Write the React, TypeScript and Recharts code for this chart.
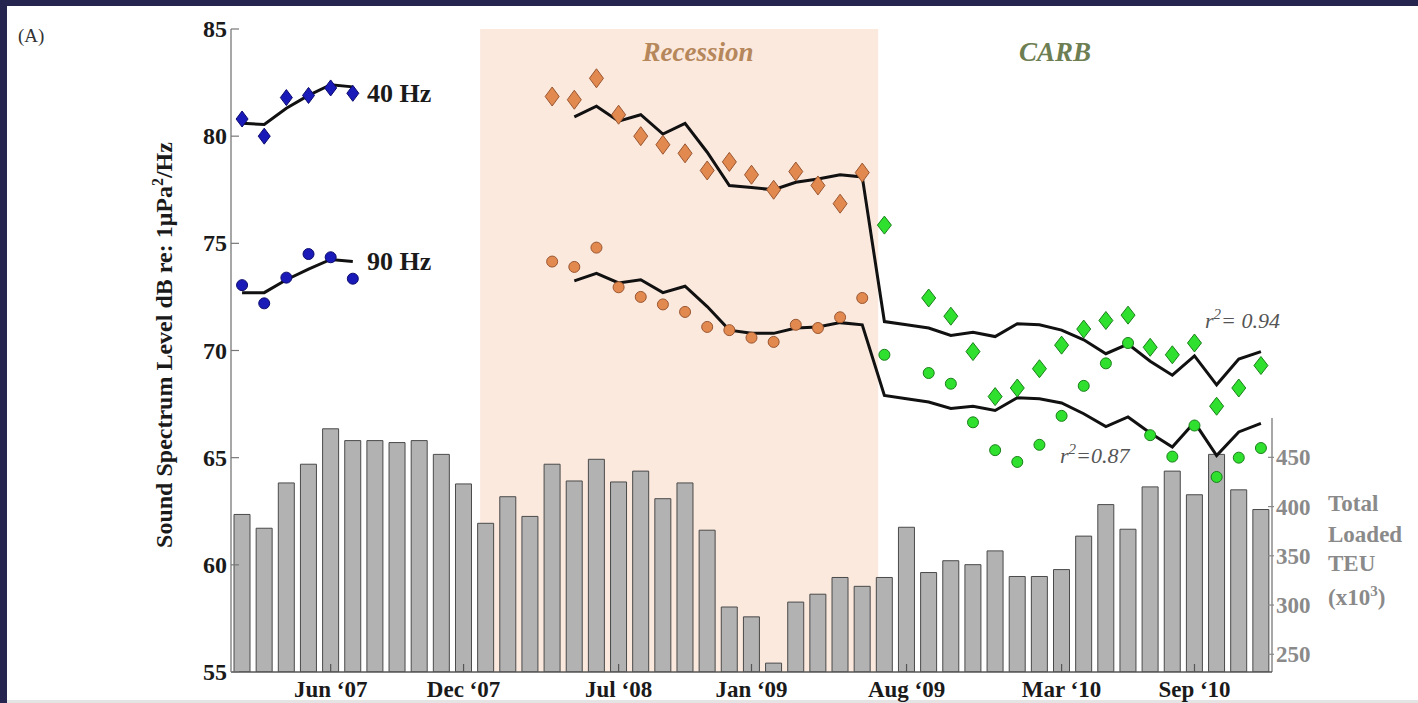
import { Bar, ComposedChart, Line, ReferenceArea, ReferenceLine, Scatter, XAxis, YAxis } from 'recharts'

const months = [
  'Feb ‘07', 'Mar ‘07', 'Apr ‘07', 'May ‘07', 'Jun ‘07', 'Jul ‘07', 'Aug ‘07', 'Sep ‘07', 'Oct ‘07', 'Nov ‘07', 'Dec ‘07',
  'Jan ‘08', 'Feb ‘08', 'Mar ‘08', 'Apr ‘08', 'May ‘08', 'Jun ‘08', 'Jul ‘08', 'Aug ‘08', 'Sep ‘08', 'Oct ‘08', 'Nov ‘08', 'Dec ‘08',
  'Jan ‘09', 'Feb ‘09', 'Mar ‘09', 'Apr ‘09', 'May ‘09', 'Jun ‘09', 'Jul ‘09', 'Aug ‘09', 'Sep ‘09', 'Oct ‘09', 'Nov ‘09', 'Dec ‘09',
  'Jan ‘10', 'Feb ‘10', 'Mar ‘10', 'Apr ‘10', 'May ‘10', 'Jun ‘10', 'Jul ‘10', 'Aug ‘10', 'Sep ‘10', 'Oct ‘10', 'Nov ‘10', 'Dec ‘10',
]
const tickMonths = ['Jun ‘07', 'Dec ‘07', 'Jul ‘08', 'Jan ‘09', 'Aug ‘09', 'Mar ‘10', 'Sep ‘10']
const dbTicks = [55, 60, 65, 70, 75, 80, 85]
const teuTicks = [250, 300, 350, 400, 450]

// total loaded TEU (x10^3), one per month
const teu = [
  392, 378, 424, 443, 479, 467, 467, 465, 467, 453, 423,
  383, 410, 390, 443, 426, 448, 425, 436, 408, 424, 376, 298,
  288, 241, 303, 311, 328, 319, 328, 379, 333, 345, 341, 355,
  329, 329, 336, 370, 402, 377, 420, 436, 412, 453, 417, 397,
]

// Feb–Jul '07
const pre40 = [80.8, 80.0, 81.8, 81.9, 82.25, 82.0]
const pre90 = [73.05, 72.2, 73.4, 74.5, 74.35, 73.35]
const preFit40 = [80.6, 80.55, 81.3, 81.9, 82.4, 82.3]
const preFit90 = [72.7, 72.7, 73.3, 73.8, 74.25, 74.15]

// Apr '08 – Jun '09
const rec40 = [81.85, 81.7, 82.7, 81.0, 80.0, 79.6, 79.2, 78.4, 78.8, 78.2, 77.5, 78.35, 77.7, 76.85, 78.3]
const rec90 = [74.15, 73.9, 74.8, 72.95, 72.5, 72.15, 71.8, 71.1, 70.95, 70.6, 70.4, 71.2, 71.05, 71.55, 72.45]

// Jul '09 – Dec '10 (no sample in Aug '09)
const carb40 = [75.85, null, 72.45, 71.6, 69.95, 67.85, 68.25, 69.15, 70.25, 71.0, 71.4, 71.65, 70.15, 69.8, 70.35, 67.4, 68.25, 69.3]
const carb90 = [69.8, null, 68.95, 68.45, 66.65, 65.35, 64.8, 65.6, 66.95, 68.35, 69.4, 70.35, 66.05, 65.05, 66.5, 64.1, 65.0, 65.45]

// model fit, May '08 – Dec '10
const fit40 = [
  80.9, 81.4, 80.7, 81.0, 80.1, 80.6, 79.25, 77.7, 77.6, 77.5, 77.85, 78.0, 78.2, 78.1,
  71.35, 71.2, 71.05, 70.7, 70.85, 70.65, 71.25, 71.2, 70.95, 70.5, 69.85, 70.3, 69.5, 68.85, 69.75, 68.4, 69.6, 69.95,
]
const fit90 = [
  73.25, 73.6, 73.15, 73.3, 72.7, 73.0, 72.05, 70.95, 70.8, 70.8, 71.05, 71.1, 71.3, 71.2,
  67.9, 67.75, 67.6, 67.3, 67.4, 67.2, 67.8, 67.75, 67.55, 67.05, 66.45, 66.9, 66.15, 65.5, 66.65, 65.1, 66.2, 66.6,
]

const SERIF = '"Liberation Serif", "Times New Roman", serif'
const W = 1418
const H = 703

const idx = (m: string) => months.indexOf(m)
const at = (arr: (number | null)[], startMonth: string, i: number) => {
  const v = arr[i - idx(startMonth)]
  return v === undefined ? null : v
}

const rows = months.map((month, i) => ({
  i,
  month,
  teu: teu[i],
  b40: at(pre40, 'Feb ‘07', i),
  b90: at(pre90, 'Feb ‘07', i),
  o40: at(rec40, 'Apr ‘08', i),
  o90: at(rec90, 'Apr ‘08', i),
  g40: at(carb40, 'Jul ‘09', i),
  g90: at(carb90, 'Jul ‘09', i),
  f40: at(preFit40, 'Feb ‘07', i) ?? at(fit40, 'May ‘08', i),
  f90: at(preFit90, 'Feb ‘07', i) ?? at(fit90, 'May ‘08', i),
}))

const only = (key: string) => rows.filter((r: any) => r[key] != null)

const recStart = idx('Dec ‘07') + 0.75
const recEnd = idx('Jun ‘09') + 0.72
const xMax = months.length - 0.5

const diamond = (fill: string, stroke: string, w: number, h: number) => (p: any) => {
  if (p.cx == null || p.cy == null) return <g />
  const { cx, cy } = p
  return (
    <polygon
      points={`${cx},${cy - h / 2} ${cx + w / 2},${cy} ${cx},${cy + h / 2} ${cx - w / 2},${cy}`}
      fill={fill}
      stroke={stroke}
      strokeWidth={1}
    />
  )
}

const dot = (fill: string, stroke: string, r: number) => (p: any) => {
  if (p.cx == null || p.cy == null) return <g />
  return <circle cx={p.cx} cy={p.cy} r={r} fill={fill} stroke={stroke} strokeWidth={1} />
}

function MonthTick({ x, y, payload }: any) {
  return (
    <g>
      <line x1={x} x2={x} y1={y} y2={y - 8} stroke="#555" strokeWidth={1.2} />
      <text x={x} y={y + 25} textAnchor="middle" fontFamily={SERIF} fontWeight="bold" fontSize={23} fill="#1a1a1a">
        {months[payload.value]}
      </text>
    </g>
  )
}

function DbTick({ x, y, payload }: any) {
  return (
    <g>
      <line x1={x} x2={x + 8} y1={y} y2={y} stroke="#777" strokeWidth={1.2} />
      <text x={x - 4} y={y + 8} textAnchor="end" fontFamily={SERIF} fontWeight="bold" fontSize={24} fill="#1a1a1a">
        {payload.value}
      </text>
    </g>
  )
}

function TeuTick({ x, y, payload }: any) {
  return (
    <g>
      <line x1={x - 4} x2={x + 2} y1={y} y2={y} stroke="#888" strokeWidth={1.2} />
      <text x={x + 4} y={y + 8} textAnchor="start" fontFamily={SERIF} fontWeight="bold" fontSize={23} fill="#8a8a8a">
        {payload.value}
      </text>
    </g>
  )
}

export default function App() {
  return (
    <div style={{ position: 'absolute', left: 0, top: 0, width: W, height: H, background: '#fff', overflow: 'hidden' }}>
      <div style={{ position: 'absolute', left: 0, top: 0, width: W, height: 6, background: '#25254f' }} />
      <div style={{ position: 'absolute', left: 0, top: 0, width: 7, height: H, background: '#25254f' }} />
      <div style={{ position: 'absolute', left: 7, top: 700, width: W, height: 3, background: '#e4e4e4' }} />

      <div style={{ position: 'absolute', left: 0, top: 0 }}>
        <ComposedChart width={W} height={H} data={rows} margin={{ top: 29, left: 171, right: 86, bottom: 0 }}>
          <XAxis
            dataKey="i"
            type="number"
            domain={[-0.5, xMax]}
            ticks={tickMonths.map(idx)}
            tick={<MonthTick />}
            tickSize={0}
            tickMargin={0}
            tickLine={false}
            height={31}
            stroke="#555"
            strokeWidth={1.5}
          />
          <YAxis
            yAxisId="left"
            domain={[55, 85]}
            ticks={dbTicks}
            tick={<DbTick />}
            tickSize={0}
            tickMargin={0}
            tickLine={false}
            width={60}
            stroke="#8a8a8a"
            strokeWidth={1.5}
            allowDataOverflow
          />
          <YAxis
            yAxisId="right"
            orientation="right"
            domain={[232, 885]}
            ticks={teuTicks}
            tick={<TeuTick />}
            tickSize={0}
            tickMargin={0}
            tickLine={false}
            axisLine={false}
            width={60}
            allowDataOverflow
          />
          <ReferenceArea yAxisId="left" x1={recStart} x2={recEnd} fill="#fbe9de" fillOpacity={1} stroke="none" />
          <Bar
            yAxisId="right"
            dataKey="teu"
            barSize={16}
            fill="#b2b2b2"
            stroke="#4a4a4a"
            strokeWidth={1}
            isAnimationActive={false}
          />
          <ReferenceLine
            yAxisId="right"
            segment={[{ x: xMax, y: 232 }, { x: xMax, y: 490 }]}
            stroke="#8a8a8a"
            strokeWidth={1.5}
          />
          <Line yAxisId="left" dataKey="f40" stroke="#111" strokeWidth={3} dot={false} connectNulls={false} isAnimationActive={false} />
          <Line yAxisId="left" dataKey="f90" stroke="#111" strokeWidth={3} dot={false} connectNulls={false} isAnimationActive={false} />
          <Scatter yAxisId="left" data={only('b40')} dataKey="b40" shape={diamond('#1a1ab8', '#0b0b70', 12, 16)} isAnimationActive={false} />
          <Scatter yAxisId="left" data={only('b90')} dataKey="b90" shape={dot('#1a1ab8', '#0b0b70', 5.5)} isAnimationActive={false} />
          <Scatter yAxisId="left" data={only('o40')} dataKey="o40" shape={diamond('#e2894f', '#9a5630', 14, 19)} isAnimationActive={false} />
          <Scatter yAxisId="left" data={only('o90')} dataKey="o90" shape={dot('#e2894f', '#9a5630', 5.5)} isAnimationActive={false} />
          <Scatter yAxisId="left" data={only('g40')} dataKey="g40" shape={diamond('#2fe02f', '#1a801a', 14, 18)} isAnimationActive={false} />
          <Scatter yAxisId="left" data={only('g90')} dataKey="g90" shape={dot('#2fe02f', '#1a801a', 5.5)} isAnimationActive={false} />
        </ComposedChart>
      </div>

      <svg width={W} height={H} style={{ position: 'absolute', left: 0, top: 0, pointerEvents: 'none' }}>
        <text x={18} y={42} fontFamily={SERIF} fontSize={19} fill="#333">(A)</text>
        <text
          transform="translate(172,345) rotate(-90)"
          textAnchor="middle"
          fontFamily={SERIF}
          fontWeight="bold"
          fontSize={24}
          fill="#1a1a1a"
        >
          Sound Spectrum Level dB re: 1μPa<tspan dy={-9} fontSize={16}>2</tspan><tspan dy={9}>/Hz</tspan>
        </text>
        <g fontFamily={SERIF} fontWeight="bold" fontSize={26} fill="#1a1a1a">
          <text x={367} y={102}>40 Hz</text>
          <text x={367} y={270}>90 Hz</text>
        </g>
        <g fontFamily={SERIF} fontWeight="bold" fontStyle="italic" fontSize={27} textAnchor="middle">
          <text x={698} y={61} fill="#b5875b">Recession</text>
          <text x={1055} y={61} fill="#6d7e52">CARB</text>
        </g>
        <g fontFamily={SERIF} fontStyle="italic" fontSize={22} fill="#555">
          <text x={1205} y={328}>
            r<tspan dy={-9} fontSize={15}>2</tspan><tspan dy={9}>= 0.94</tspan>
          </text>
          <text x={1060} y={463}>
            r<tspan dy={-9} fontSize={15}>2</tspan><tspan dy={9}>=0.87</tspan>
          </text>
        </g>
        <g fontFamily={SERIF} fontWeight="bold" fontSize={23} fill="#8a8a8a">
          <text x={1328} y={511}>Total</text>
          <text x={1328} y={542}>Loaded</text>
          <text x={1328} y={571}>TEU</text>
          <text x={1328} y={605}>
            (x10<tspan dy={-9} fontSize={15}>3</tspan><tspan dy={9}>)</tspan>
          </text>
        </g>
      </svg>
    </div>
  )
}
